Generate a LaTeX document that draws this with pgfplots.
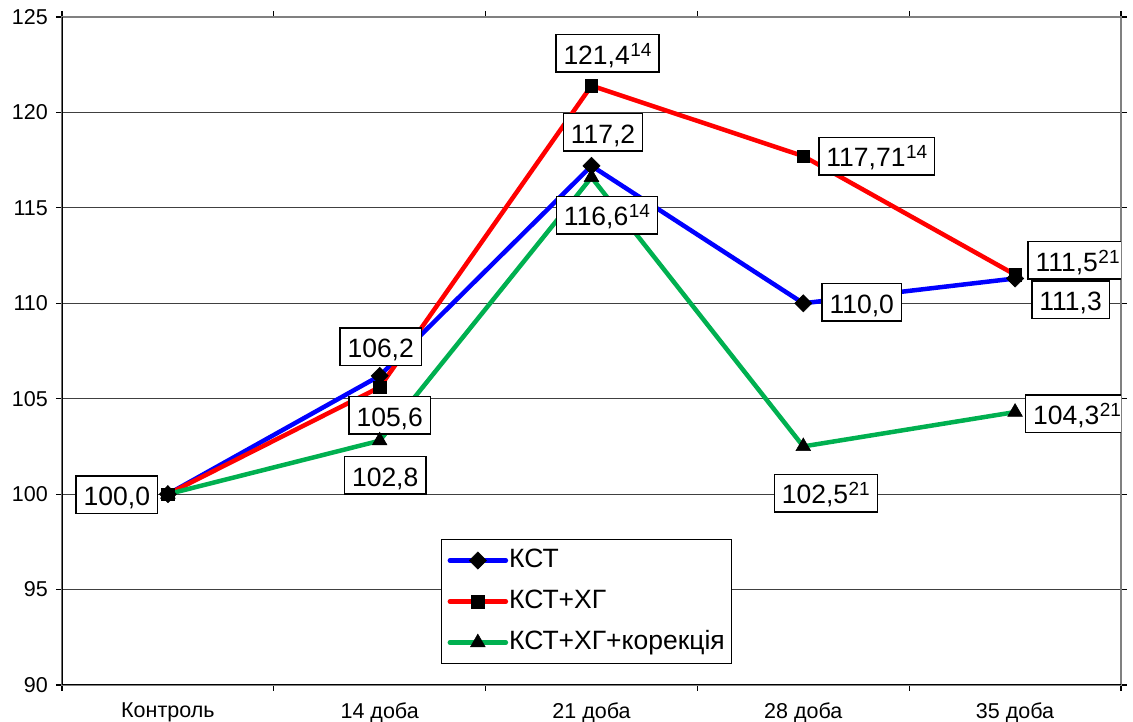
\documentclass[border=0pt]{standalone}
\usepackage{pgfplots}
\pgfplotsset{compat=1.18}
\usepackage{fontspec}
\setmainfont{Liberation Sans}
\definecolor{kgreen}{RGB}{0,176,80}
\definecolor{frame}{RGB}{128,128,128}
\newcommand\sups[1]{\kern0.5pt\raisebox{8pt}{\fontsize{19}{19}\selectfont #1}}

\begin{document}
\begin{tikzpicture}[
  lbl/.style={draw=black, line width=1.5pt, fill=white,
    font=\fontsize{26.5}{26.5}\selectfont,
    inner xsep=7.5pt, inner ysep=0pt, text height=29.5pt, text depth=8pt},
]
\begin{axis}[
  at={(0,0)}, anchor=south west,
  scale only axis, width=1059pt, height=668pt,
  xmin=-0.5, xmax=4.5, ymin=90, ymax=125,
  xtick={0,...,4},
  xticklabels={Контроль,14 доба,21 доба,28 доба,35 доба},
  minor xtick={-0.5,0.5,1.5,2.5,3.5,4.5},
  ytick={90,95,...,125},
  tick align=outside,
  major x tick style={draw=none},
  minor tick length=6pt, major tick length=6pt,
  tick style={black, line width=1.2pt},
  ymajorgrids, grid style={black!75, line width=0.9pt},
  axis line style={draw=frame, line width=1.8pt},
  /pgf/number format/assume math mode=true,
  ticklabel style={font=\fontsize{21.5}{21.5}\selectfont},
  yticklabel style={inner sep=0pt, xshift=-8pt},
  xticklabel style={inner sep=0pt, yshift=-12pt},
  legend style={at={(rel axis cs:0.3579,0.2186)}, anchor=north west,
    draw=black, line width=1.2pt, fill=white,
    font=\fontsize{26.5}{26.5}\selectfont,
    inner xsep=6pt, inner ysep=7pt, row sep=13pt,
    nodes={inner sep=1pt, text height=20pt, text depth=6pt}},
  legend cell align=left,
  legend image code/.code={%
    \draw[mark repeat=2, mark phase=2, line cap=round, #1]
      plot coordinates {(0pt,0pt) (28pt,0pt) (56pt,0pt)};},
  every axis plot/.append style={line width=4.5pt},
]
% КСТ
\addplot[blue, mark=square*, mark size=6.1pt,
  mark options={rotate=45, fill=black, draw=black, line width=0.5pt}]
  coordinates {(0,100.0) (1,106.2) (2,117.2) (3,110.0) (4,111.3)};
\addlegendentry{КСТ}
% КСТ+ХГ
\addplot[red, mark=square*, mark size=6.2pt,
  mark options={fill=black, draw=black, line width=0.5pt}]
  coordinates {(0,100.0) (1,105.6) (2,121.4) (3,117.71) (4,111.5)};
\addlegendentry{КСТ+ХГ}
% КСТ+ХГ+корекція
\addplot[kgreen, mark=triangle*, mark size=8.5pt,
  mark options={fill=black, draw=black, line width=0.5pt}]
  coordinates {(0,100.0) (1,102.8) (2,116.6) (3,102.5) (4,104.3)};
\addlegendentry{КСТ+ХГ+корекція}

% left and bottom axis lines in black
\draw[black, line width=1.8pt] (rel axis cs:0,1) -- (rel axis cs:0,0) -- (rel axis cs:1,0);

% value labels
\node[lbl, xshift=-51pt, yshift=-0.5pt] at (axis cs:0,100.0) {100,0};
\node[lbl, xshift=1pt, yshift=29.3pt] at (axis cs:1,106.2) {106,2};
\node[lbl, xshift=10pt, yshift=-28.2pt] at (axis cs:1,105.6) {105,6};
\node[lbl, xshift=5.5pt, yshift=-34.8pt] at (axis cs:1,102.8) {102,8};
\node[lbl, xshift=16pt, yshift=32.2pt] at (axis cs:2,121.4) {121,4\sups{14}};
\node[lbl, xshift=11.5pt, yshift=33.4pt] at (axis cs:2,117.2) {117,2};
\node[lbl, xshift=15.5pt, yshift=-37.7pt] at (axis cs:2,116.6) {116,6\sups{14}};
\node[lbl, xshift=73.5pt, yshift=0pt] at (axis cs:3,117.71) {117,71\sups{14}};
\node[lbl, xshift=58.5pt, yshift=0.8pt] at (axis cs:3,110.0) {110,0};
\node[lbl, xshift=22.5pt, yshift=-46.6pt] at (axis cs:3,102.5) {102,5\sups{21}};
\node[lbl, xshift=62.5pt, yshift=14.2pt] at (axis cs:4,111.5) {111,5\sups{21}};
\node[lbl, xshift=55.5pt, yshift=-21.5pt] at (axis cs:4,111.3) {111,3};
\node[lbl, xshift=62pt, yshift=-1.9pt] at (axis cs:4,104.3) {104,3\sups{21}};
\end{axis}
\pgfresetboundingbox
\path[use as bounding box] (-62pt,-37pt) rectangle (1071pt,685pt);
\end{tikzpicture}
\end{document}
